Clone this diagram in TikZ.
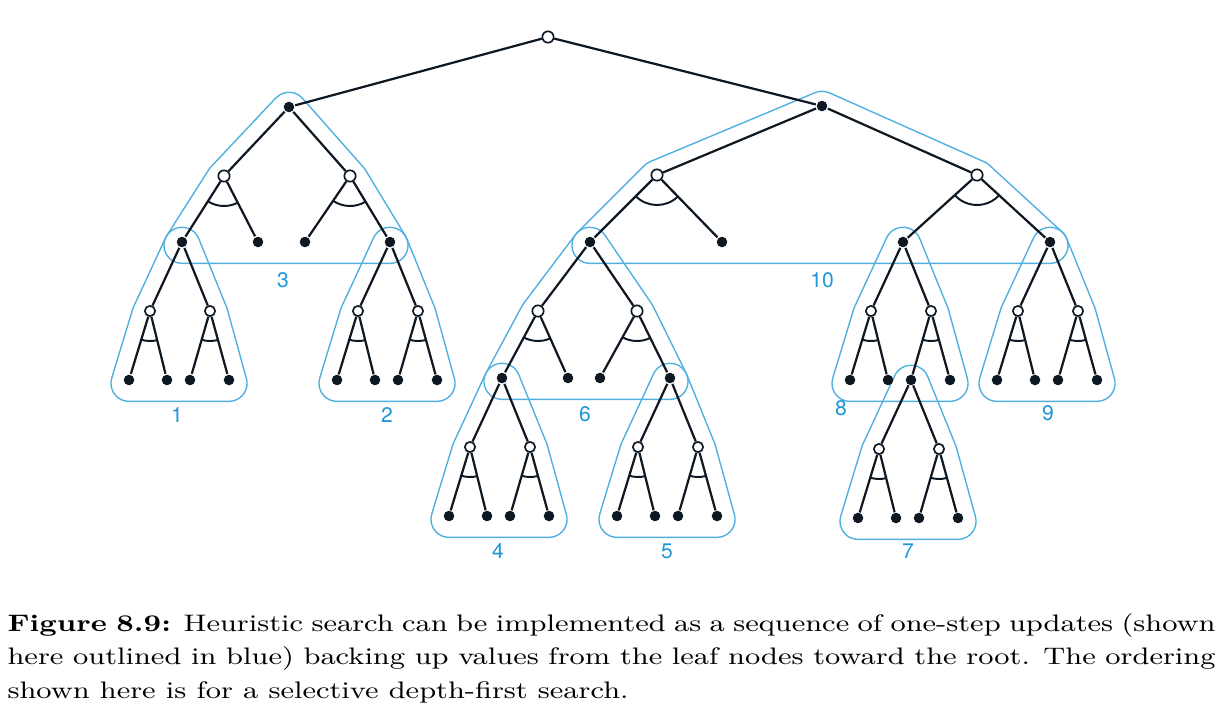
\documentclass[tikz,border=0pt]{standalone}
\usepackage{fontspec}
\usetikzlibrary{calc,angles}

\newfontfamily\labelfont{TeX Gyre Heros}
\newfontfamily\capfont{Latin Modern Roman}[FakeStretch=1.24]

\definecolor{treeline}{RGB}{14,24,34}
\definecolor{hullblue}{RGB}{80,175,225}
\definecolor{numblue}{RGB}{30,150,215}

\pgfdeclarelayer{background}
\pgfsetlayers{background,main}

% radius of the blue outlines
\def\hr{6.5pt}

% blue outline round apex, left state, left leaf, right leaf, right state
\newcommand{\hull}[5]{%
 \begin{pgfonlayer}{background}
 \draw[outline] let \p1=(#1), \p2=(#2), \p3=(#3), \p4=(#4), \p5=(#5),
    \n1={atan2(\y2-\y1,\x2-\x1)-90},
    \n2={atan2(\y3-\y2,\x3-\x2)-90},
    \n3={atan2(\y4-\y3,\x4-\x3)-90},
    \n4={atan2(\y5-\y4,\x5-\x4)-90},
    \n5={atan2(\y1-\y5,\x1-\x5)-90}
  in ($(\p1)+(\n1:\hr)$) -- ($(\p2)+(\n1:\hr)$) arc[start angle=\n1, end angle=\n2, radius=\hr]
   -- ($(\p3)+(\n2:\hr)$) arc[start angle=\n2, end angle=\n3, radius=\hr]
   -- ($(\p4)+(\n3:\hr)$) arc[start angle=\n3, end angle=\n4, radius=\hr]
   -- ($(\p5)+(\n4:\hr)$) arc[start angle=\n4, end angle=\n5, radius=\hr]
   -- ($(\p1)+(\n5:\hr)$) arc[start angle=\n5, end angle=\n1+360, radius=\hr] -- cycle;
 \end{pgfonlayer}}

% one action expanded: two states, four leaf actions
\newcommand{\expandaction}[1]{%
 \node[small state] (#1l) at ($(#1)+(-32,69)$) {};
 \node[small state] (#1r) at ($(#1)+(28,69)$) {};
 \node[action node] (#1ll) at ($(#1)+(-53,138)$) {};
 \node[action node] (#1lr) at ($(#1)+(-15,138)$) {};
 \node[action node] (#1rl) at ($(#1)+(8,138)$) {};
 \node[action node] (#1rr) at ($(#1)+(47,138)$) {};
 \path (#1) edge (#1l) edge (#1r);
 \path (#1l) edge (#1ll) edge (#1lr);
 \path (#1r) edge (#1rl) edge (#1rr);
 \pic[branch arc] {angle=#1ll--#1l--#1lr};
 \pic[branch arc] {angle=#1rl--#1r--#1rr};
 \hull{#1}{#1l}{#1ll}{#1rr}{#1r}}

\begin{document}
\begin{tikzpicture}[x=0.36pt, y=-0.36pt, line width=0.8pt, color=treeline,
	every edge/.append style={line width=0.8pt},
	state node/.style={circle, draw, fill=white, line width=0.6pt, inner sep=0pt, minimum size=4.1pt},
	small state/.style={state node, minimum size=3.7pt},
	action node/.style={circle, fill, inner sep=0pt, minimum size=3.8pt},
	branch arc/.style={draw, line width=0.7pt, angle radius=10.8pt},
	outline/.style={draw=hullblue, line width=0.5pt, transform canvas={yshift=-1.2pt}},
	num label/.style={text=numblue, font=\labelfont\fontsize{7.6}{9}\selectfont, inner sep=0pt},
	caption/.style={text=black, font=\capfont\fontsize{8.6}{12}\selectfont, text width=434.9pt, align=justify, inner sep=0pt}]

	\useasboundingbox (0,0) rectangle (1228,722);

	\node[state node] (s0) at (548,37) {};
	\node[action node] (a) at (289,107) {};
	\node[action node] (b) at (822,106) {};
	\node[state node] (a1) at (224,176) {};
	\node[state node] (a2) at (350,176) {};
	\node[state node] (b1) at (657,175) {};
	\node[state node] (b2) at (977,175) {};
	\node[action node] (a11) at (182,242) {};
	\node[action node] (a12) at (258,242) {};
	\node[action node] (a21) at (305,242) {};
	\node[action node] (a22) at (390,242) {};
	\node[action node] (b11) at (590,242) {};
	\node[action node] (b12) at (722,242) {};
	\node[action node] (b21) at (903,242) {};
	\node[action node] (b22) at (1050,242) {};
	\node[state node] (b11l) at (538,311) {};
	\node[state node] (b11r) at (637,311) {};
	\node[action node] (b11ll) at (502,378) {};
	\node[action node] (b11lr) at (568,378) {};
	\node[action node] (b11rl) at (600,378) {};
	\node[action node] (b11rr) at (670,378) {};

	\path (s0) edge (a) edge (b);
	\path (a) edge (a1) edge (a2);
	\path (b) edge (b1) edge (b2);
	\path (a1) edge (a11) edge (a12);
	\path (a2) edge (a21) edge (a22);
	\path (b1) edge (b11) edge (b12);
	\path (b2) edge (b21) edge (b22);
	\path (b11) edge (b11l) edge (b11r);
	\path (b11l) edge (b11ll) edge (b11lr);
	\path (b11r) edge (b11rl) edge (b11rr);

	\pic[branch arc] {angle=a11--a1--a12};
	\pic[branch arc] {angle=a21--a2--a22};
	\pic[branch arc] {angle=b11--b1--b12};
	\pic[branch arc] {angle=b21--b2--b22};
	\pic[branch arc] {angle=b11ll--b11l--b11lr};
	\pic[branch arc] {angle=b11rl--b11r--b11rr};

	% the small one-step updates
	\expandaction{a11}
	\expandaction{a22}
	\expandaction{b11ll}
	\expandaction{b11rr}
	\expandaction{b21}
	\expandaction{b21rl}
	\expandaction{b22}

	% the larger ones
	\hull{a}{a1}{a11}{a22}{a2}
	\hull{b11}{b11l}{b11ll}{b11rr}{b11r}
	\hull{b}{b1}{b11}{b22}{b2}

	\node[num label] (l1) at (177,415) {1};
	\node[num label] (l2) at (387,415) {2};
	\node[num label] (l3) at (283,280) {3};
	\node[num label] (l4) at (498,551) {4};
	\node[num label] (l5) at (667,551) {5};
	\node[num label] (l6) at (585,414) {6};
	\node[num label] (l7) at (908,551) {7};
	\node[num label] (l8) at (841,408) {8};
	\node[num label] (l9) at (1048,413) {9};
	\node[num label] (l10) at (822,280) {10};

	\node[caption, anchor=north west] (cap) at (7,613) {\textbf{Figure 8.9:} Heuristic search can be implemented as a sequence of one-step updates (shown\linebreak here outlined in blue) backing up values from the leaf nodes toward the root. The ordering\linebreak shown here is for a selective depth-first search.};
\end{tikzpicture}
\end{document}
